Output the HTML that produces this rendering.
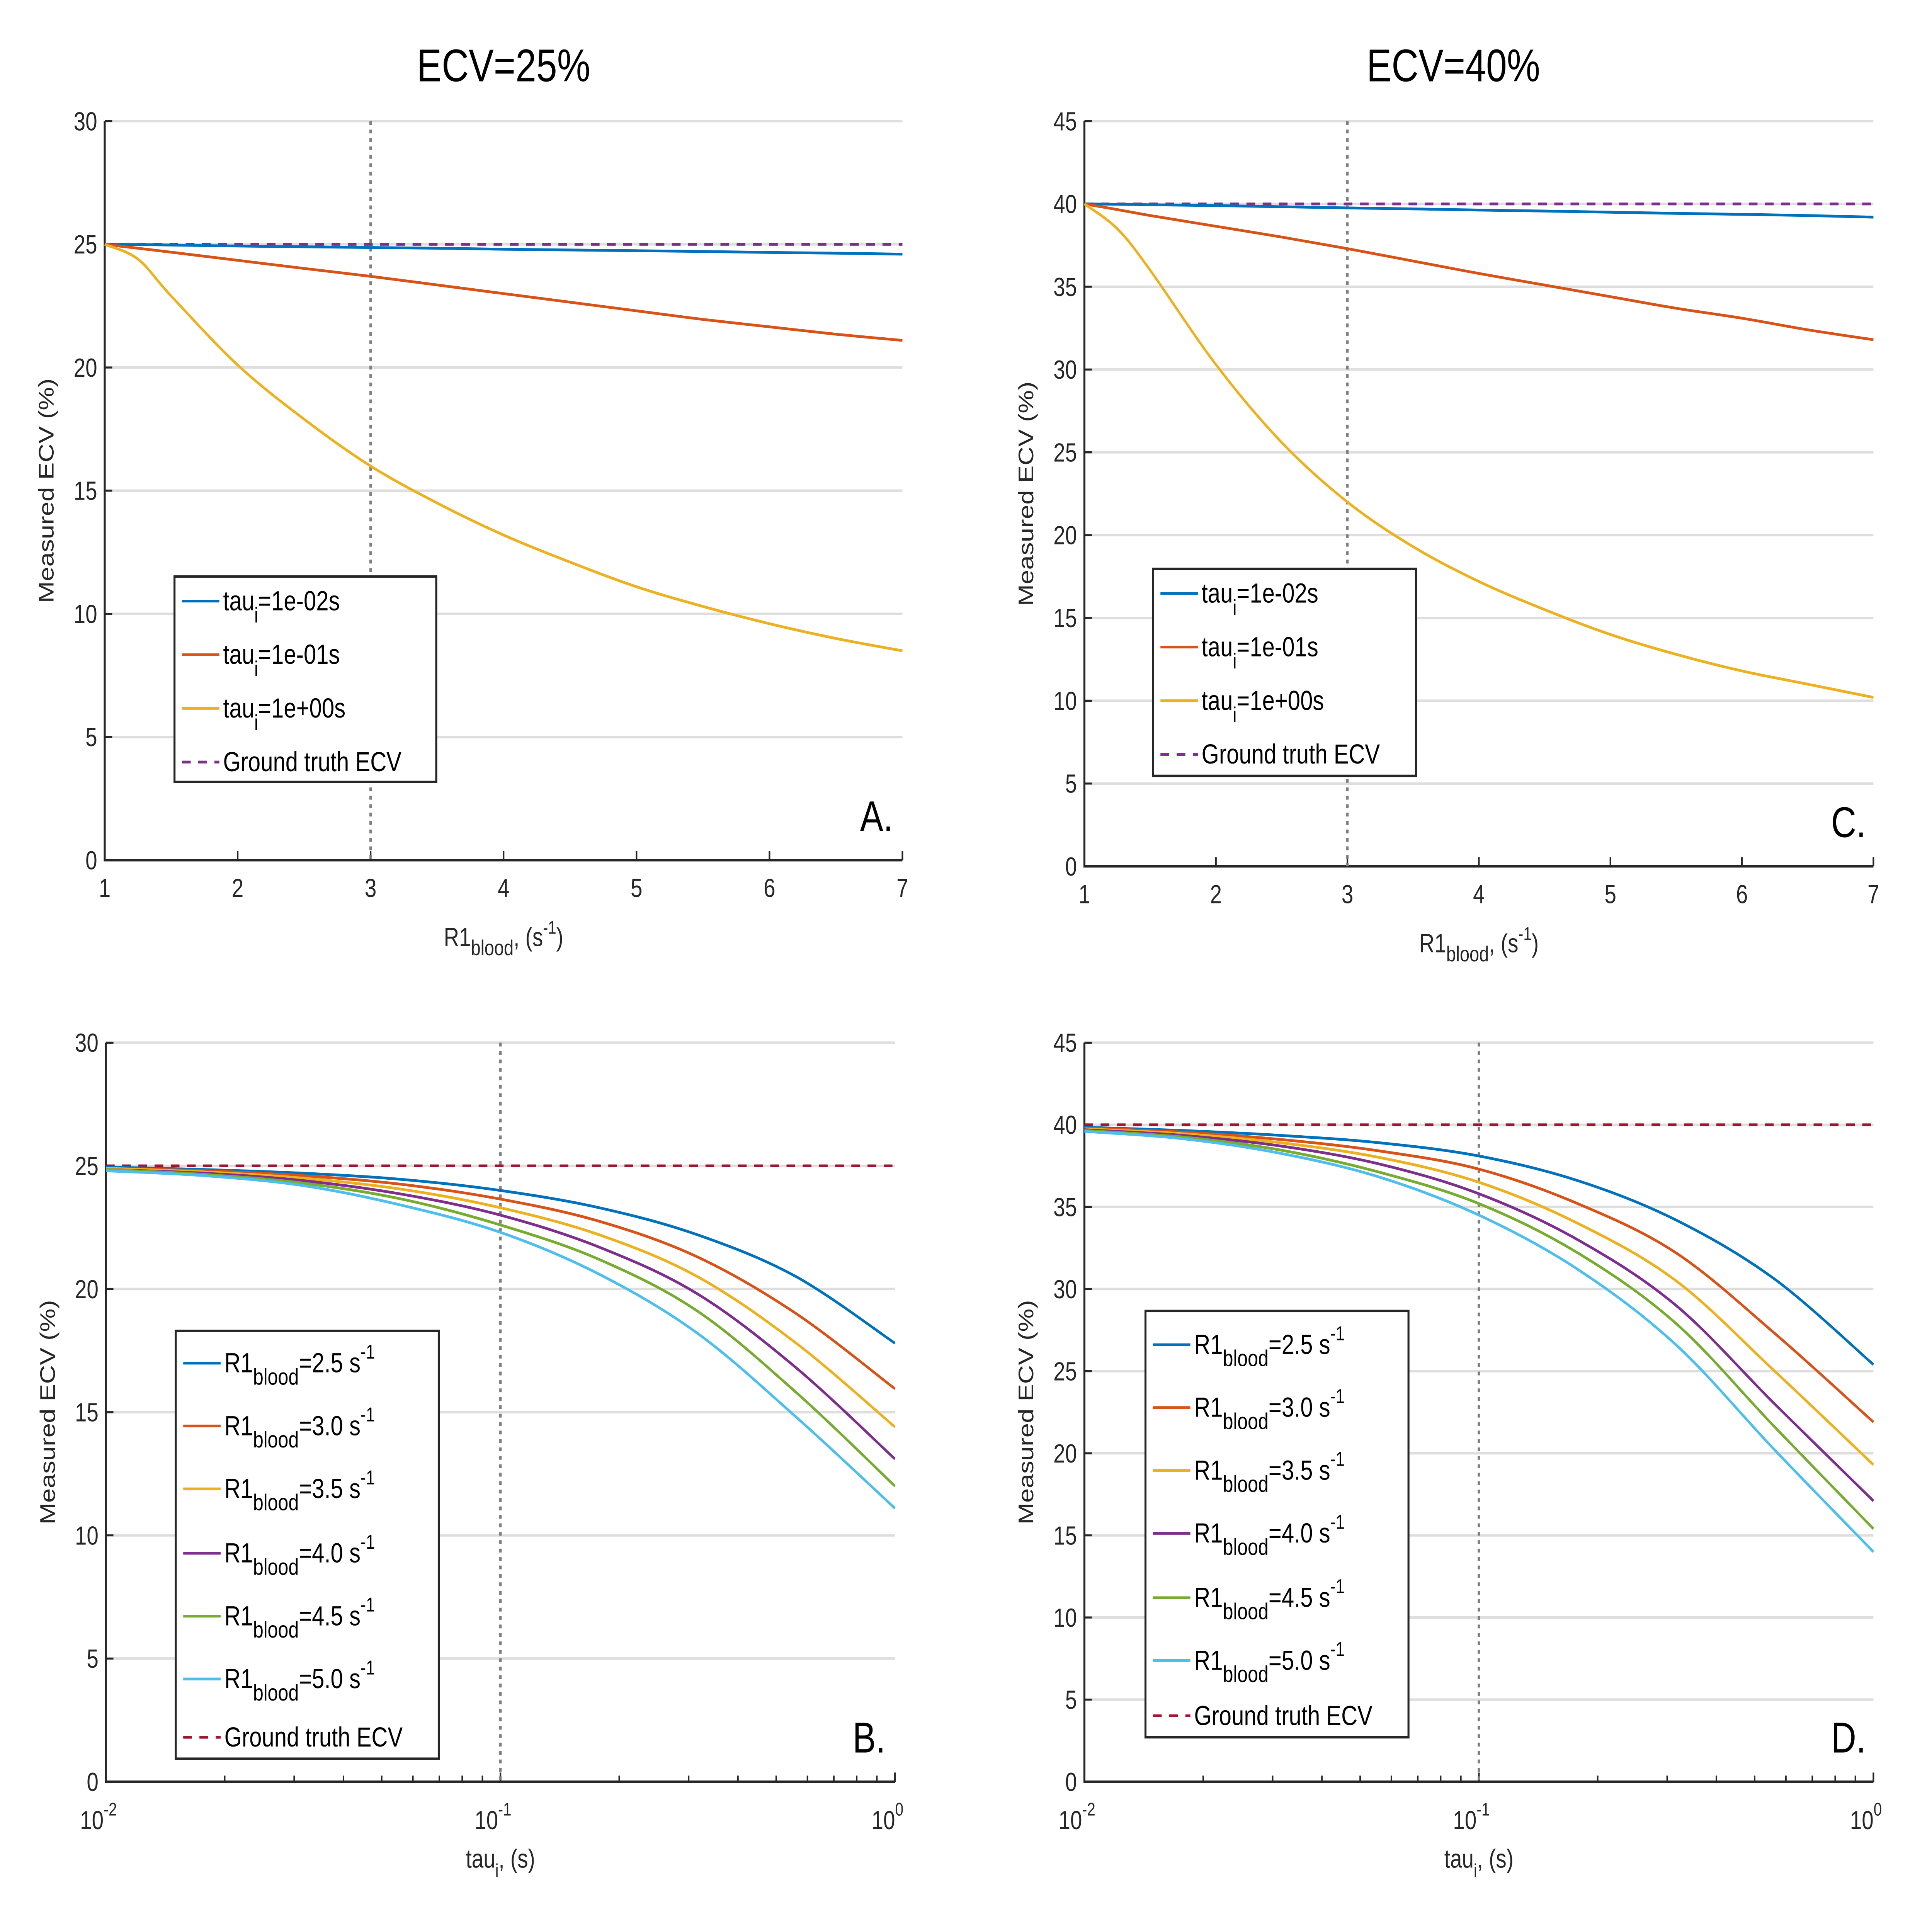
<!DOCTYPE html>
<html><head><meta charset="utf-8"><style>
html,body{margin:0;padding:0;background:#fff;width:100%;height:100%;overflow:hidden}
svg{display:block;width:100vw;height:100vh;font-family:"Liberation Sans",Arial,sans-serif}
</style></head><body>
<svg id="fig" xmlns="http://www.w3.org/2000/svg" viewBox="0 0 1550 1260" preserveAspectRatio="none">
<text x="404" y="53" font-size="30" text-anchor="middle">ECV=25%</text>
<text x="1166" y="53" font-size="30" text-anchor="middle">ECV=40%</text>
</svg>
<script>
// ---- data ----
const r1Values=[1,1.25,1.5,2,2.5,3,3.5,4,4.5,5,5.5,6,6.5,7];
const A_tau001=[25,24.99,24.97,24.93,24.9,24.87,24.84,24.8,24.77,24.74,24.71,24.67,24.64,24.6];
const A_tau01=[25,24.84,24.68,24.35,24.02,23.7,23.35,23.0,22.65,22.3,21.95,21.65,21.35,21.1];
const A_tau1=[25,24.4,22.9,20.1,17.9,16,14.5,13.2,12.1,11.1,10.3,9.6,9,8.5];
const C_tau001=[40,39.98,39.95,39.9,39.83,39.76,39.7,39.63,39.57,39.5,39.43,39.37,39.3,39.2];
const C_tau01=[40,39.66,39.3,38.65,38.0,37.3,36.55,35.8,35.1,34.4,33.7,33.1,32.4,31.8];
const C_tau1=[40,38.5,36,30.3,25.6,22,19.3,17.2,15.5,14,12.8,11.8,11,10.2];
const tauValues=[0.01,0.0178,0.0316,0.0562,0.1,0.178,0.316,0.562,1.0];
const B_r25=[24.95,24.85,24.7,24.45,24.0,23.3,22.2,20.5,17.8];
const B_r30=[24.9,24.8,24.6,24.25,23.65,22.75,21.3,19.0,15.95];
const B_r35=[24.9,24.75,24.5,24.05,23.3,22.2,20.5,17.8,14.4];
const B_r40=[24.85,24.7,24.4,23.85,23.0,21.7,19.8,16.8,13.1];
const B_r45=[24.85,24.65,24.3,23.65,22.6,21.2,19.1,15.8,12.0];
const B_r50=[24.8,24.6,24.2,23.4,22.3,20.6,18.2,14.8,11.1];
const D_r25=[39.85,39.65,39.35,38.9,38.1,36.6,34.2,30.6,25.4];
const D_r30=[39.8,39.55,39.1,38.4,37.3,35.2,32.2,27.3,21.9];
const D_r35=[39.75,39.45,38.9,38.0,36.5,34.0,30.5,25.0,19.3];
const D_r40=[39.7,39.35,38.7,37.6,35.8,33.0,29.0,23.0,17.1];
const D_r45=[39.65,39.25,38.45,37.1,35.2,32.2,27.9,21.6,15.4];
const D_r50=[39.6,39.15,38.25,36.8,34.5,31.2,26.6,20.2,14.0];
const ticks30=[0,5,10,15,20,25,30];
const ticks45=[0,5,10,15,20,25,30,35,40,45];
const ticksR1=[1,2,3,4,5,6,7];
const ticksLogExp=[-2,-1,0];
const tauLabels=["=1e-02s","=1e-01s","=1e+00s"];
const r1Labels=["=2.5 s","=3.0 s","=3.5 s","=4.0 s","=4.5 s","=5.0 s"];
const C6=["#0072BD","#D95319","#EDB120","#7E2F8E","#77AC30","#4DBEEE"];

const NS="http://www.w3.org/2000/svg";
const svg=document.getElementById('fig');
function el(tag,attrs,parent){const e=document.createElementNS(NS,tag);for(const k in attrs)e.setAttribute(k,attrs[k]);(parent||svg).appendChild(e);return e;}
function smoothPath(pts){
  let d="M"+pts[0][0]+","+pts[0][1];
  for(let i=0;i<pts.length-1;i++){
    const p0=pts[i-1]||pts[i],p1=pts[i],p2=pts[i+1],p3=pts[i+2]||p2;
    const c1=[p1[0]+(p2[0]-p0[0])/6,p1[1]+(p2[1]-p0[1])/6];
    const c2=[p2[0]-(p3[0]-p1[0])/6,p2[1]-(p3[1]-p1[1])/6];
    d+=" C"+c1[0]+","+c1[1]+" "+c2[0]+","+c2[1]+" "+p2[0]+","+p2[1];
  }
  return d;
}

function panel(cfg){
  const g=el('g',{});
  
  
  const X=cfg.log?(v=>cfg.x0+(Math.log10(v)+2)/2*(cfg.x1-cfg.x0)):(v=>cfg.x0+(v-1)/6*(cfg.x1-cfg.x0));
  const Y=v=>cfg.y0-(v/cfg.ymax)*(cfg.y0-cfg.y1);
  cfg.yt.forEach(t=>{
    if(t>0){const l=el('line',{x1:cfg.x0,x2:cfg.x1,y1:Y(t),y2:Y(t),stroke:"#dedede","stroke-width":1.6},g);
    
    }
    const tk=el('line',{x1:cfg.x0,x2:cfg.x0+6,y1:Y(t),y2:Y(t),stroke:"#262626","stroke-width":1.3},g);
    
    
    const tx=el('text',{x:cfg.x0-6,y:Y(t)+6,"font-size":17,"text-anchor":"end",fill:"#262626"},g);
    tx.textContent=t;
    
    
  });
  if(cfg.log){
    ticksLogExp.forEach(e=>{
      const x=X(Math.pow(10,e));
      el('line',{x1:x,x2:x,y1:cfg.y0,y2:cfg.y0-6,stroke:"#262626","stroke-width":1.3},g);
      const tx=el('text',{x:x-6,y:cfg.y0+31,"font-size":17,"text-anchor":"middle",fill:"#262626"},g);
      
      
      tx.textContent="10";
      const s=el('tspan',{dy:-9,"font-size":12},tx);s.textContent=String(e);
      if(e<0){for(let m=2;m<=9;m++){const xm=X(m*Math.pow(10,e));el('line',{x1:xm,x2:xm,y1:cfg.y0,y2:cfg.y0-4,stroke:"#262626","stroke-width":1.2},g);}}
    });
  }else{
    ticksR1.forEach(t=>{
      const x=X(t);
      el('line',{x1:x,x2:x,y1:cfg.y0,y2:cfg.y0-6,stroke:"#262626","stroke-width":1.3},g);
      const tx=el('text',{x:x,y:cfg.y0+24,"font-size":17,"text-anchor":"middle",fill:"#262626"},g);
      tx.textContent=t;
      
      
    });
  }
  const ax=el('path',{d:`M${cfg.x0},${cfg.y1}V${cfg.y0}H${cfg.x1}`,fill:"none",stroke:"#262626","stroke-width":1.6},g);
  
  
  const vx=X(cfg.log?0.1:3);
  const vl=el('line',{x1:vx,x2:vx,y1:cfg.y1,y2:cfg.y0,stroke:"#808080","stroke-width":2,"stroke-dasharray":"2.5 3"},g);
  
  
  const gt=el('line',{x1:cfg.x0,x2:cfg.x1,y1:Y(cfg.truth),y2:Y(cfg.truth),stroke:cfg.truthColor,"stroke-width":1.8,"stroke-dasharray":"7 6"},g);
  
  
  cfg.series.forEach((s,i)=>{
    const p=el('path',{d:smoothPath(cfg.xs.map((x,j)=>[X(x),Y(s[j])])),fill:"none",stroke:cfg.colors[i],"stroke-width":1.8},g);
    
    
  });
  const yl=el('text',{x:0,y:0,"font-size":17,"text-anchor":"middle",fill:"#262626",transform:`translate(${cfg.x0-41},${(cfg.y0+cfg.y1)/2}) rotate(-90)`},g);
  yl.textContent="Measured ECV (%)";
  
  
  const xm=(cfg.x0+cfg.x1)/2;
  const xl=el('text',{x:xm,y:cfg.y0+56,"font-size":17,"text-anchor":"middle",fill:"#262626"},g);
  
  
  if(cfg.log){xl.textContent="tau";const a=el('tspan',{dy:6,"font-size":12},xl);a.textContent="i";const b=el('tspan',{dy:-6},xl);b.textContent=", (s)";}
  else{xl.textContent="R1";const a=el('tspan',{dy:6,"font-size":14},xl);a.textContent="blood";const b=el('tspan',{dy:-6},xl);b.textContent=", (s";const c=el('tspan',{dy:-8,"font-size":12},xl);c.textContent="-1";const d=el('tspan',{dy:8},xl);d.textContent=")";}
  const pl=el('text',{x:cfg.x1-34,y:cfg.y0-19,"font-size":28,fill:"#000"},g);
  pl.textContent=cfg.letter;
  
  
  const L=cfg.leg;
  const lg=el('g',{},g);
  
  
  el('rect',{x:L.x,y:L.y,width:L.w,height:L.h,fill:"#fff",stroke:"#262626","stroke-width":1.6},lg);
  cfg.labels.forEach((lab,i)=>{
    const yy=L.ys[i];
    const e=el('g',{},lg);
    
    
    el('line',{x1:L.x+6,x2:L.x+36,y1:yy,y2:yy,stroke:cfg.colors[i],"stroke-width":1.8},e);
    const t=el('text',{x:L.x+39,y:yy+6,"font-size":18,fill:"#000"},e);
    if(cfg.log){t.textContent="R1";const a=el('tspan',{dy:8,"font-size":15},t);a.textContent="blood";const b=el('tspan',{dy:-8},t);b.textContent=lab;const c=el('tspan',{dy:-9,"font-size":13},t);c.textContent="-1";}
    else{t.textContent="tau";const a=el('tspan',{dy:8,"font-size":14},t);a.textContent="i";const b=el('tspan',{dy:-8},t);b.textContent=lab;}
  });
  const yy=L.ys[cfg.labels.length];
  const e=el('g',{},lg);
  
  
  el('line',{x1:L.x+6,x2:L.x+36,y1:yy,y2:yy,stroke:cfg.truthColor,"stroke-width":1.8,"stroke-dasharray":"7 6"},e);
  const t=el('text',{x:L.x+39,y:yy+6,"font-size":18,fill:"#000"},e);t.textContent="Ground truth ECV";
}

panel({name:"panel-a",x0:84,x1:724,y0:561,y1:79,ymax:30,yt:ticks30,xs:r1Values,series:[A_tau001,A_tau01,A_tau1],colors:C6,truth:25,truthColor:"#7E2F8E",letter:"A.",labels:tauLabels,
  leg:{x:140,y:376,w:210,h:134,ys:[392,427,462,497]}});
panel({name:"panel-c",x0:870,x1:1503,y0:565,y1:79,ymax:45,yt:ticks45,xs:r1Values,series:[C_tau001,C_tau01,C_tau1],colors:C6,truth:40,truthColor:"#7E2F8E",letter:"C.",labels:tauLabels,
  leg:{x:925,y:371,w:211,h:135,ys:[387,422,457,492]}});
panel({name:"panel-b",log:true,x0:85,x1:718,y0:1162,y1:680,ymax:30,yt:ticks30,xs:tauValues,series:[B_r25,B_r30,B_r35,B_r40,B_r45,B_r50],colors:C6,truth:25,truthColor:"#A2142F",letter:"B.",labels:r1Labels,
  leg:{x:141,y:868,w:211,h:279,ys:[889,930,971,1013,1054,1095,1133]}});
panel({name:"panel-d",log:true,x0:870,x1:1503,y0:1162,y1:680,ymax:45,yt:ticks45,xs:tauValues,series:[D_r25,D_r30,D_r35,D_r40,D_r45,D_r50],colors:C6,truth:40,truthColor:"#A2142F",letter:"D.",labels:r1Labels,
  leg:{x:919,y:855,w:211,h:278,ys:[877,918,959,1000,1042,1083,1119]}});
</script>
</body></html>
